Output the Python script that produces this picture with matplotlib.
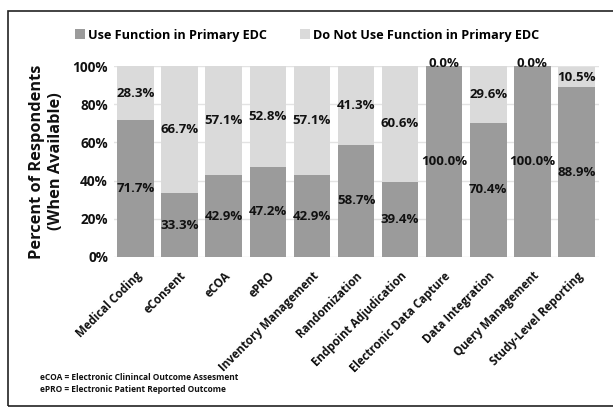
import matplotlib
matplotlib.use("Agg")
import matplotlib.pyplot as plt
from matplotlib.patches import Rectangle

categories = ["Medical Coding", "eConsent", "eCOA", "ePRO", "Inventory Management",
              "Randomization", "Endpoint Adjudication", "Electronic Data Capture",
              "Data Integration", "Query Management", "Study-Level Reporting"]
use_vals = [71.7, 33.3, 42.9, 47.2, 42.9, 58.7, 39.4, 100.0, 70.4, 100.0, 88.9]
not_use_vals = [28.3, 66.7, 57.1, 52.8, 57.1, 41.3, 60.6, 0.0, 29.6, 0.0, 10.5]
yticks = [0, 20, 40, 60, 80, 100]

plt.rcParams['font.family'] = ['Open Sans', 'Liberation Sans', 'DejaVu Sans']
plt.rcParams['font.weight'] = 'bold'

dark = "#9b9b9b"
light = "#dadada"
txt = "#111111"

fig = plt.figure(figsize=(6.13, 4.08), dpi=100)
ax = fig.add_axes([113.5 / 613, 1 - 257 / 408, 485 / 613, 191 / 408])

x = list(range(len(categories)))
w = 0.83
b1 = ax.bar(x, use_vals, w, color=dark, label="Use Function in Primary EDC", zorder=2)
b2 = ax.bar(x, not_use_vals, w, bottom=use_vals, color=light,
            label="Do Not Use Function in Primary EDC", zorder=2)

for i, (u, n) in enumerate(zip(use_vals, not_use_vals)):
    ax.text(i, u / 2, f"{u:.1f}%", ha="center", va="center", fontsize=9.5,
            fontweight="bold", color=txt, zorder=3)
    ax.text(i, u + n / 2 if n > 0 else 101.5, f"{n:.1f}%", ha="center",
            va="center", fontsize=9.5, fontweight="bold", color=txt, zorder=3)

ax.set_xlim(-0.5, len(categories) - 0.5)
ax.set_ylim(0, 100)
ax.set_yticks(yticks)
ax.set_yticklabels([f"{t}%" for t in yticks], fontsize=9.8, fontweight="bold", color=txt)
ax.set_xticks(x)
ax.set_xticklabels(categories, rotation=45, ha="right", rotation_mode="anchor",
                   fontsize=8.3, fontweight="bold", color=txt)
ax.tick_params(axis="y", length=0, pad=4)
ax.tick_params(axis="x", length=0, pad=9)
ax.grid(axis="y", color="#e3e3e3", linewidth=1, zorder=0)
for s in ax.spines.values():
    s.set_visible(False)

ax.set_ylabel("Percent of Respondents\n(When Available)", fontsize=11.8,
              fontweight="bold", labelpad=6, linespacing=1.25, color=txt)

fig.legend(handles=[b1, b2], loc="center left", bbox_to_anchor=(75 / 613, 1 - 35 / 408),
           ncol=2, frameon=False, handlelength=0.8,
           handleheight=0.8, handletextpad=0.25, columnspacing=2.6,
           borderaxespad=0, borderpad=0,
           prop={"weight": "bold", "size": 9.1})

fig.text(40 / 613, 1 - 377 / 408, "eCOA = Electronic Clinincal Outcome Assesment",
         fontsize=6.0, fontweight="bold", va="center", color=txt)
fig.text(40 / 613, 1 - 389 / 408, "ePRO = Electronic Patient Reported Outcome",
         fontsize=6.0, fontweight="bold", va="center", color=txt)

fig.add_artist(Rectangle((8 / 613, 2 / 408), 1.1, 1 - 13 / 408,
                         transform=fig.transFigure, fill=False,
                         edgecolor="#222222", linewidth=1.2))

fig.savefig("out.png", dpi=100)
